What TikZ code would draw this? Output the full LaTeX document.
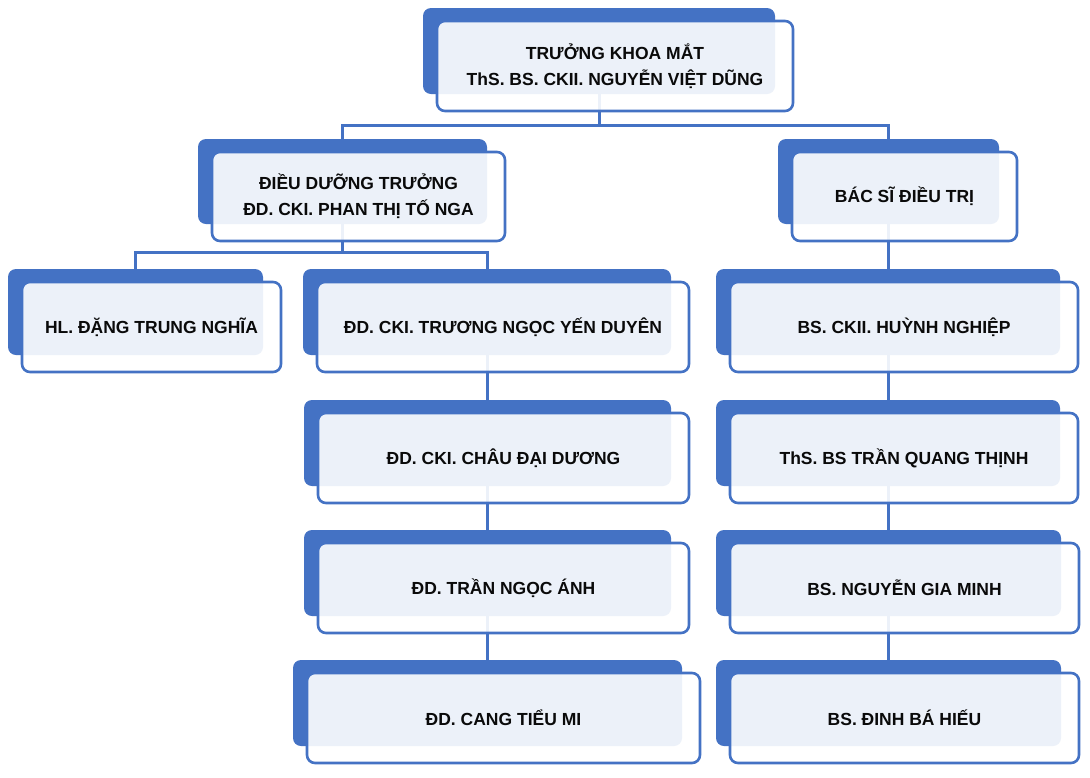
\documentclass[tikz,border=0pt]{standalone}
\usepackage{fontspec}
\setmainfont{Liberation Sans}
\definecolor{obblue}{HTML}{4472C4}
\definecolor{obtext}{HTML}{0A0A0A}
\tikzset{
  backbox/.style={draw=none, fill=obblue, rounded corners=8pt, inner sep=0pt},
  frontbox/.style={draw=obblue, line width=2.6pt, fill=white, fill opacity=0.9, text opacity=1,
    rounded corners=8pt, inner sep=0pt, align=center, text=obtext,
    font=\fontsize{17.5}{26}\selectfont\bfseries},
  conn/.style={draw=obblue, line width=3pt}
}
\newcommand\obback[5]{%
  \pgfmathsetmacro\bcx{(#2+#4)/2}\pgfmathsetmacro\bcy{(#3+#5)/2}%
  \pgfmathsetmacro\bbw{#4-#2}\pgfmathsetmacro\bbh{#5-#3}%
  \node[backbox, minimum width=\bbw pt, minimum height=\bbh pt] (#1) at (\bcx,\bcy) {};}
\newcommand\obfront[6]{%
  \pgfmathsetmacro\bcx{(#2+#4)/2+16}\pgfmathsetmacro\bcy{(#3+#5)/2+15}%
  \pgfmathsetmacro\bbw{#4-#2+4}\pgfmathsetmacro\bbh{#5-#3+4}%
  \node[frontbox, minimum width=\bbw pt, minimum height=\bbh pt] (#1f) at (\bcx,\bcy) {#6};}
\begin{document}
\begin{tikzpicture}[x=1pt, y=-1pt]
\useasboundingbox[fill=white] (0,0) rectangle (1090,777);
% back boxes
\obback{top}{423}{8}{775}{94}
\obback{dd}{198}{139}{487}{224}
\obback{bs}{778}{139}{999}{224}
\obback{hl}{8}{269}{263}{355}
\obback{ty}{303}{269}{671}{355}
\obback{hn}{716}{269}{1060}{355}
\obback{cd}{304}{400}{671}{486}
\obback{tq}{716}{400}{1060}{486}
\obback{ta}{304}{530}{671}{616}
\obback{gm}{716}{530}{1061}{616}
\obback{cm}{293}{660}{682}{746}
\obback{bh}{716}{660}{1061}{746}
% connectors
\draw[conn] (top.south) -- ++(0,31) coordinate (j1);
\draw[conn] (j1) -| (dd.north);
\draw[conn] (j1) -| (bs.north);
\draw[conn] (dd.south) -- ++(0,28) coordinate (j2);
\draw[conn] (j2) -| (hl.north);
\draw[conn] (j2) -| (ty.north);
\draw[conn] (ty.south) -- (ty.south |- cd.north);
\draw[conn] (cd.south) -- (cd.south |- ta.north);
\draw[conn] (ta.south) -- (ta.south |- cm.north);
\draw[conn] (bs.south) -- (bs.south |- hn.north);
\draw[conn] (hn.south) -- (hn.south |- tq.north);
\draw[conn] (tq.south) -- (tq.south |- gm.north);
\draw[conn] (gm.south) -- (gm.south |- bh.north);
% front boxes
\obfront{top}{423}{8}{775}{94}{TRƯỞNG KHOA MẮT\\ThS. BS. CKII. NGUYỄN VIỆT DŨNG}
\obfront{dd}{198}{139}{487}{224}{ĐIỀU DƯỠNG TRƯỞNG\\ĐD. CKI. PHAN THỊ TỐ NGA}
\obfront{bs}{778}{139}{999}{224}{BÁC SĨ ĐIỀU TRỊ}
\obfront{hl}{8}{269}{263}{355}{HL. ĐẶNG TRUNG NGHĨA}
\obfront{ty}{303}{269}{671}{355}{ĐD. CKI. TRƯƠNG NGỌC YẾN DUYÊN}
\obfront{hn}{716}{269}{1060}{355}{BS. CKII. HUỲNH NGHIỆP}
\obfront{cd}{304}{400}{671}{486}{ĐD. CKI. CHÂU ĐẠI DƯƠNG}
\obfront{tq}{716}{400}{1060}{486}{ThS. BS TRẦN QUANG THỊNH}
\obfront{ta}{304}{530}{671}{616}{ĐD. TRẦN NGỌC ÁNH}
\obfront{gm}{716}{530}{1061}{616}{BS. NGUYỄN GIA MINH}
\obfront{cm}{293}{660}{682}{746}{ĐD. CANG TIỂU MI}
\obfront{bh}{716}{660}{1061}{746}{BS. ĐINH BÁ HIẾU}
\end{tikzpicture}
\end{document}
